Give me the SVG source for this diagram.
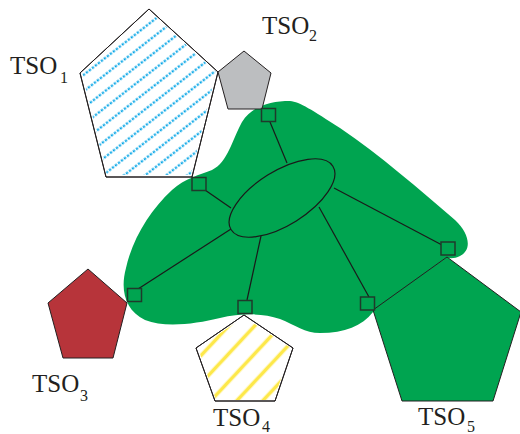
<svg xmlns="http://www.w3.org/2000/svg" width="520" height="434" viewBox="0 0 520 434">
  <style>
    .lbl { font-family: "Liberation Serif", "Times New Roman", serif; font-size: 25px; fill: #231f20; }
    .sub { font-size: 16px; }
    .pent { stroke: #231f20; stroke-width: 1; stroke-linejoin: miter; }
    .link { stroke: #1a1a1a; stroke-width: 1.2; fill: none; }
    .port { fill: #00a450; stroke: #1f3a2b; stroke-width: 1.5; }
  </style>
  <defs>
    <!-- dotted blue diagonal hatching -->
    <pattern id="hatchBlue" patternUnits="userSpaceOnUse" width="11.4" height="13" patternTransform="rotate(-38)">
      <line x1="0" y1="6.5" x2="11.4" y2="6.5" stroke="#00a3e6" stroke-width="2.2" stroke-dasharray="2.4 1.4"/>
    </pattern>
    <!-- yellow diagonal stripes -->
    <pattern id="hatchYellow" patternUnits="userSpaceOnUse" width="19" height="19" patternTransform="rotate(-47)">
      <line x1="0" y1="9.5" x2="19" y2="9.5" stroke="#fde84a" stroke-width="3.6"/>
    </pattern>
  </defs>

  <!-- shared network region -->
  <g id="region">
    <path fill="#00a450" d="M 290,101 C 300,102 312,110 340,128 C 380,155 420,190 455,220 C 470,234 472,250 460,256 C 455,259 450,258 446,258 L 373,312 C 362,326 345,333 320,333 C 305,333 295,325 280,319 C 262,313 242,313 220,318 C 195,324 165,328 145,320 C 125,310 120,290 126,268 C 132,240 150,210 172,190 C 185,178 200,175 212,170 C 228,162 232,140 242,122 C 252,106 270,101 290,101 Z"/>
  </g>

  <g id="tso1">
    <polygon class="pent" fill="#ffffff" points="149,9 218,72 192,177 106,177 80,73"/>
    <polygon fill="url(#hatchBlue)" points="149,11 216,72 191,175 107,175 82,73"/>
    <polygon class="pent" fill="none" points="149,9 218,72 192,177 106,177 80,73"/>
    <text class="lbl" x="10" y="74">TSO<tspan class="sub" x="60" y="83">1</tspan></text>
  </g>

  <g id="tso2">
    <polygon class="pent" fill="#bcbec0" points="244,51 271,73 262,109 228,109 218,72"/>
    <text class="lbl" x="262" y="34">TSO<tspan class="sub" x="309" y="41">2</tspan></text>
  </g>

  <g id="tso3">
    <polygon class="pent" fill="#b7343a" points="88,269 127,303 113,358 63,358 48,303"/>
    <text class="lbl" x="32" y="392">TSO<tspan class="sub" x="80" y="401">3</tspan></text>
  </g>

  <g id="tso4">
    <polygon class="pent" fill="#ffffff" points="244,315 293,348 275,401 215,401 196,348"/>
    <polygon fill="url(#hatchYellow)" points="244,317 291,348 274,400 216,400 198,348"/>
    <polygon class="pent" fill="none" points="244,315 293,348 275,401 215,401 196,348"/>
    <text class="lbl" x="213" y="426">TSO<tspan class="sub" x="262" y="432">4</tspan></text>
  </g>

  <g id="tso5">
    <polygon class="pent" fill="#00a450" points="447,257 521,312 493,401 402,401 373,310"/>
    <text class="lbl" x="418" y="425">TSO<tspan class="sub" x="467" y="432">5</tspan></text>
  </g>

  <!-- links from the hub to the border ports -->
  <g id="connectors">
    <line class="link" x1="270" y1="122" x2="287" y2="163"/>
    <line class="link" x1="205" y1="190" x2="231" y2="208"/>
    <line class="link" x1="231" y1="229" x2="138" y2="289"/>
    <line class="link" x1="261" y1="236" x2="247" y2="300"/>
    <line class="link" x1="319" y1="207" x2="369" y2="297"/>
    <line class="link" x1="334" y1="188" x2="442" y2="245"/>
  </g>

  <g id="hub">
    <ellipse cx="282" cy="198" rx="60" ry="27" transform="rotate(-32 282 198)" fill="#00a450" stroke="#1a1a1a" stroke-width="1.2"/>
  </g>

  <g id="ports">
    <rect id="port-top" class="port" x="261.5" y="108.5" width="14" height="13"/>
    <rect id="port-tso1" class="port" x="192" y="177.5" width="14" height="13"/>
    <rect id="port-tso3" class="port" x="127.5" y="288.5" width="14" height="13"/>
    <rect id="port-tso4" class="port" x="238" y="300.5" width="14" height="13"/>
    <rect id="port-tso5a" class="port" x="360.5" y="297" width="14" height="13"/>
    <rect id="port-tso5b" class="port" x="441" y="242" width="14" height="13"/>
  </g>
</svg>
